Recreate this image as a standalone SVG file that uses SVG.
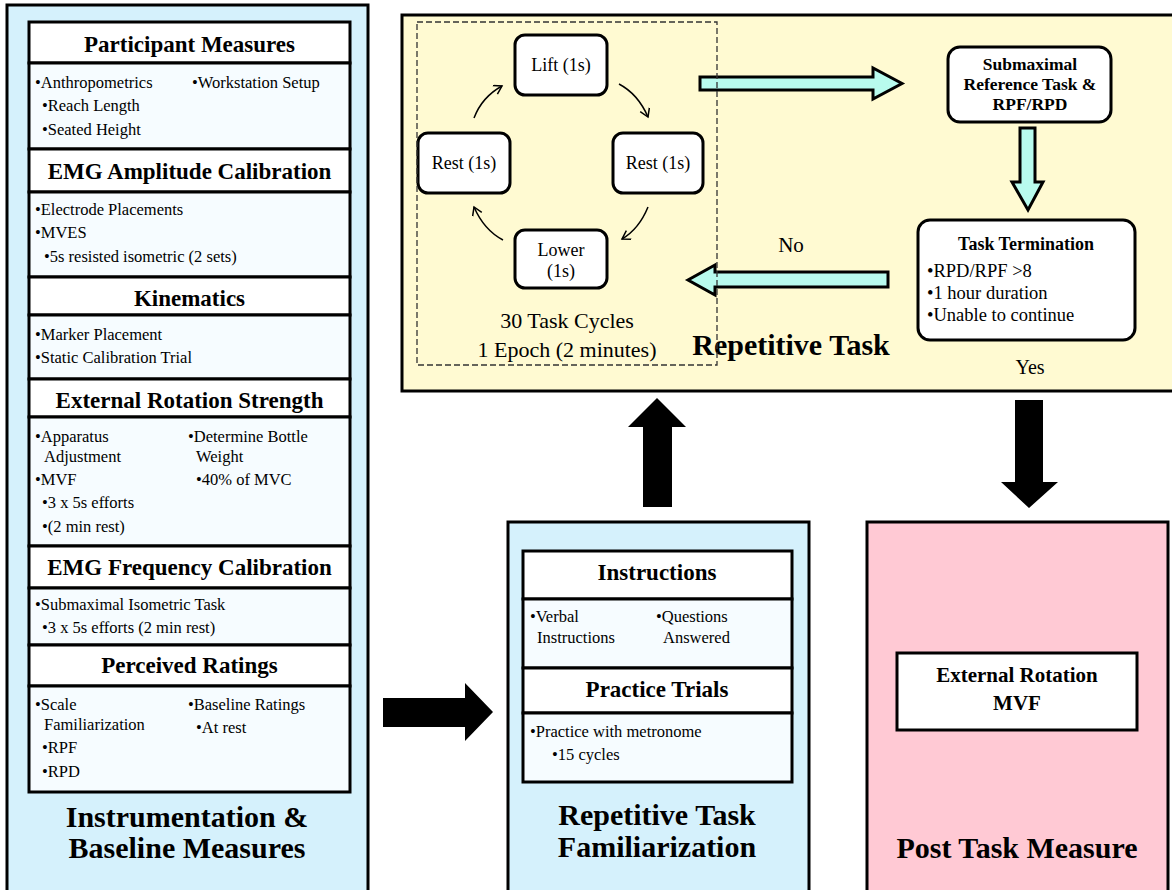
<svg xmlns="http://www.w3.org/2000/svg" width="1172" height="890" viewBox="0 0 1172 890" font-family="'Liberation Serif', Tinos, 'Times New Roman', 'DejaVu Serif', serif">
<style>
text{font-family:'Liberation Serif',Tinos,'Times New Roman','DejaVu Serif',serif;fill:#000}
.panel{stroke:#000;stroke-width:3}
.blue{fill:#D5F1FC}
.yellow{fill:#FFFAD2}
.pink{fill:#FFC9D4}
.hdr{fill:#fff;stroke:#000;stroke-width:3}
.body{fill:#F6FCFF;stroke:#000;stroke-width:3}
.h{font-weight:bold;font-size:23px;text-anchor:middle}
.b{font-size:16.5px}
.title{font-weight:bold;font-size:30px;text-anchor:middle}
.rbox{fill:#fff;stroke:#000;stroke-width:3}
.cyc{font-size:18px;text-anchor:middle}
.cyan{fill:#B8FBEE;stroke:#000;stroke-width:3;stroke-linejoin:miter}
.blk{fill:#000}
.curve{fill:none;stroke:#000;stroke-width:1.5}
.dash{fill:none;stroke:#333;stroke-width:1.3;stroke-dasharray:6 3}
</style>
<defs>
<marker id="oa" markerWidth="12" markerHeight="12" refX="9" refY="5" orient="auto" markerUnits="userSpaceOnUse">
<path d="M1,0 L9,5 L1,10" fill="none" stroke="#000" stroke-width="1.5"/>
</marker>
</defs>

<!-- Left panel -->
<g id="instrumentation">
<rect class="panel blue" x="7" y="5" width="361" height="900"/>
<rect class="hdr" x="29" y="22" width="321" height="41"/>
<rect class="body" x="29" y="63" width="321" height="86"/>
<rect class="hdr" x="29" y="149" width="321" height="43"/>
<rect class="body" x="29" y="192" width="321" height="85"/>
<rect class="hdr" x="29" y="277" width="321" height="38"/>
<rect class="body" x="29" y="315" width="321" height="64"/>
<rect class="hdr" x="29" y="379" width="321" height="38"/>
<rect class="body" x="29" y="417" width="321" height="129"/>
<rect class="hdr" x="29" y="546" width="321" height="42"/>
<rect class="body" x="29" y="588" width="321" height="57"/>
<rect class="hdr" x="29" y="645" width="321" height="41"/>
<rect class="body" x="29" y="686" width="321" height="106"/>

<text class="h" x="189.5" y="52">Participant Measures</text>
<text class="b" x="35" y="88">•Anthropometrics</text>
<text class="b" x="192" y="88">•Workstation Setup</text>
<text class="b" x="42" y="111">•Reach Length</text>
<text class="b" x="42" y="135">•Seated Height</text>

<text class="h" x="189.5" y="179">EMG Amplitude Calibration</text>
<text class="b" x="35" y="215">•Electrode Placements</text>
<text class="b" x="35" y="238">•MVES</text>
<text class="b" x="44" y="262">•5s resisted isometric (2 sets)</text>

<text class="h" x="189.5" y="306">Kinematics</text>
<text class="b" x="35" y="340">•Marker Placement</text>
<text class="b" x="35" y="363">•Static Calibration Trial</text>

<text class="h" x="189.5" y="408">External Rotation Strength</text>
<text class="b" x="35" y="442">•Apparatus</text>
<text class="b" x="44" y="462">Adjustment</text>
<text class="b" x="35" y="485">•MVF</text>
<text class="b" x="42" y="508">•3 x 5s efforts</text>
<text class="b" x="42" y="532">•(2 min rest)</text>
<text class="b" x="188" y="442">•Determine Bottle</text>
<text class="b" x="196" y="462">Weight</text>
<text class="b" x="196" y="485">•40% of MVC</text>

<text class="h" x="189.5" y="575">EMG Frequency Calibration</text>
<text class="b" x="35" y="610">•Submaximal Isometric Task</text>
<text class="b" x="42" y="633">•3 x 5s efforts (2 min rest)</text>

<text class="h" x="189.5" y="673">Perceived Ratings</text>
<text class="b" x="35" y="710">•Scale</text>
<text class="b" x="44" y="730">Familiarization</text>
<text class="b" x="42" y="753">•RPF</text>
<text class="b" x="42" y="777">•RPD</text>
<text class="b" x="188" y="710">•Baseline Ratings</text>
<text class="b" x="196" y="733">•At rest</text>

<text class="title" x="187" y="827">Instrumentation &amp;</text>
<text class="title" x="187" y="858">Baseline Measures</text>
</g>

<!-- Repetitive task panel -->
<g id="repetitive-task">
<rect class="panel yellow" x="402" y="15" width="785" height="376"/>
<text class="title" x="791" y="355">Repetitive Task</text>
<text style="font-size:22px;text-anchor:middle" x="567" y="328">30 Task Cycles</text>
<text style="font-size:22px;text-anchor:middle" x="567" y="357">1 Epoch (2 minutes)</text>
</g>

<g id="lift">
<rect class="rbox" x="515" y="35" width="92" height="60" rx="10"/>
<text class="cyc" x="561" y="71">Lift (1s)</text>
</g>
<g id="rest-right">
<rect class="rbox" x="613" y="133" width="90" height="60" rx="10"/>
<text class="cyc" x="658" y="169">Rest (1s)</text>
</g>
<g id="lower">
<rect class="rbox" x="515" y="230" width="92" height="58" rx="10"/>
<text class="cyc" x="561" y="256">Lower</text>
<text class="cyc" x="561" y="277">(1s)</text>
</g>
<g id="rest-left">
<rect class="rbox" x="418" y="133" width="92" height="60" rx="10"/>
<text class="cyc" x="464" y="169">Rest (1s)</text>
</g>

<g id="submaximal">
<rect class="rbox" x="948" y="47" width="163" height="75" rx="12"/>
<text style="font-weight:bold;font-size:17.5px;text-anchor:middle" x="1030" y="70">Submaximal</text>
<text style="font-weight:bold;font-size:17.5px;text-anchor:middle" x="1030" y="90">Reference Task &amp;</text>
<text style="font-weight:bold;font-size:17.5px;text-anchor:middle" x="1030" y="110">RPF/RPD</text>
</g>

<g id="termination">
<rect class="rbox" x="918" y="220" width="217" height="120" rx="12"/>
<text style="font-weight:bold;font-size:18px;text-anchor:middle" x="1026" y="250">Task Termination</text>
<text style="font-size:18.5px" x="927" y="277">•RPD/RPF &gt;8</text>
<text style="font-size:18.5px" x="927" y="299">•1 hour duration</text>
<text style="font-size:18.5px" x="927" y="321">•Unable to continue</text>
</g>

<!-- Familiarization -->
<g id="familiarization">
<rect class="panel blue" x="508" y="522" width="301" height="380"/>
<rect class="hdr" x="523" y="551" width="269" height="48"/>
<rect class="body" x="523" y="599" width="269" height="69"/>
<rect class="hdr" x="523" y="668" width="269" height="45"/>
<rect class="body" x="523" y="713" width="269" height="69"/>
<text class="h" x="657" y="580">Instructions</text>
<text class="b" x="530" y="622">•Verbal</text>
<text class="b" x="537" y="643">Instructions</text>
<text class="b" x="656" y="622">•Questions</text>
<text class="b" x="663" y="643">Answered</text>
<text class="h" x="657" y="697">Practice Trials</text>
<text class="b" x="530" y="737">•Practice with metronome</text>
<text class="b" x="552" y="760">•15 cycles</text>
<text class="title" x="657" y="825">Repetitive Task</text>
<text class="title" x="657" y="857">Familiarization</text>
</g>

<!-- Post task -->
<g id="post-task">
<rect class="panel pink" x="867" y="522" width="301" height="380"/>
<rect class="hdr" x="897" y="653" width="240" height="77"/>
<text style="font-weight:bold;font-size:21px;text-anchor:middle" x="1017" y="682">External Rotation</text>
<text style="font-weight:bold;font-size:21px;text-anchor:middle" x="1017" y="710">MVF</text>
<text class="title" x="1017" y="858">Post Task Measure</text>
</g>

<!-- Connectors -->
<g id="connectors">
<path class="curve" d="M474,118 Q482,97 502,86" marker-end="url(#oa)"/>
<path class="curve" d="M619,84 Q638,94 648,117" marker-end="url(#oa)"/>
<path class="curve" d="M648,207 Q639,229 622,239" marker-end="url(#oa)"/>
<path class="curve" d="M503,240 Q484,230 474,207" marker-end="url(#oa)"/>
<polygon class="cyan" points="700,77 873,77 873,68 902,83.5 873,99 873,90 700,90"/>
<polygon class="cyan" points="1020,128 1035,128 1035,182 1043,182 1028,210 1012,182 1020,182"/>
<polygon class="cyan" points="888,272 715,272 715,265 688,280 715,295 715,287 888,287"/>
<text style="font-size:21px;text-anchor:middle" x="791" y="252">No</text>
<text style="font-size:20px;text-anchor:middle" x="1030" y="374">Yes</text>
<polygon class="blk" points="657,398 686,427 672,427 672,507 643,507 643,427 628,427"/>
<polygon class="blk" points="383,698 465,698 465,683 493,712 465,741 465,727 383,727"/>
<polygon class="blk" points="1015,400 1043,400 1043,482 1058,482 1029,508 1001,482 1015,482"/>
</g>

<g id="epoch-boundary">
<rect class="dash" x="417" y="22" width="300" height="343"/>
</g>
</svg>
